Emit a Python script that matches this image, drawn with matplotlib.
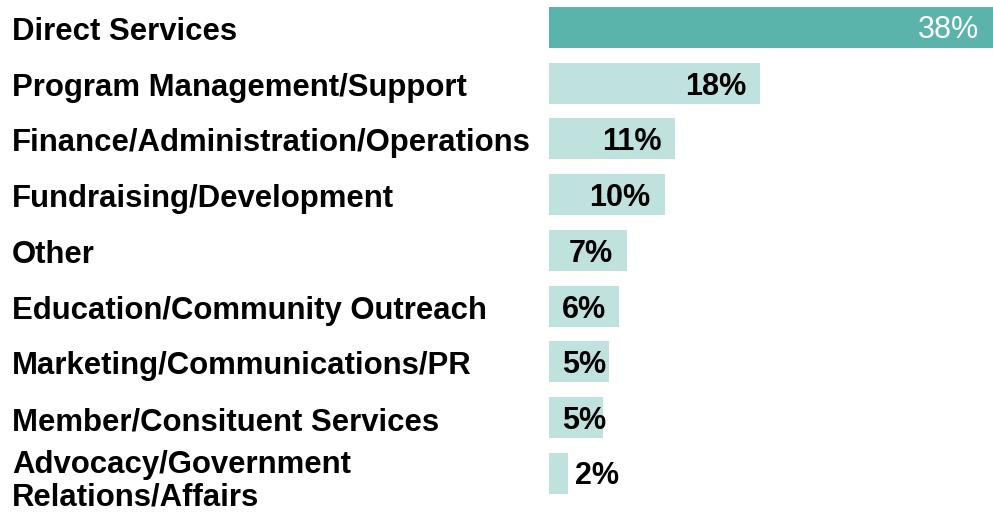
import matplotlib
matplotlib.use("Agg")
import matplotlib.pyplot as plt
from matplotlib.transforms import blended_transform_factory

# Share of staff time by function (percent)
categories = [
    "Direct Services",
    "Program Management/Support",
    "Finance/Administration/Operations",
    "Fundraising/Development",
    "Other",
    "Education/Community Outreach",
    "Marketing/Communications/PR",
    "Member/Consituent Services",
    "Advocacy/Government\nRelations/Affairs",
]
values = [38.0, 18.1, 10.8, 9.9, 6.7, 6.0, 5.1, 4.6, 1.6]

dark = "#5BB4AC"
light = "#C0E2DF"

plt.rcParams["font.family"] = ["Liberation Sans", "DejaVu Sans"]

W, H = 993, 513
fig = plt.figure(figsize=(W / 100, H / 100), dpi=100)
ax = fig.add_axes([549 / W, 0, 444 / W, 1])

pos = list(range(len(categories)))
colors = [dark] + [light] * (len(values) - 1)
ax.barh(pos, values, height=0.735, color=colors, edgecolor="none")

ax.set_xlim(0, max(values))
ax.set_ylim(8.709, -0.493)
ax.axis("off")

# category names sit at the left edge of the figure
tr = blended_transform_factory(fig.transFigure, ax.transData)
for i, name in enumerate(categories):
    dy = 0.14 if "\n" in name else 0.08
    ax.text(12 / W, i + dy, name, transform=tr, ha="left", va="center",
            fontsize=22.4, fontweight="bold", color="black", linespacing=1.1)

# percentage labels near the end of each bar
for i, v in enumerate(values):
    label = f"{v:.0f}%"
    if i == 0:
        ax.text(v - 1.15, i + 0.05, label, ha="right", va="center",
                fontsize=22, color="white")
    elif v < 3:
        ax.text(v + 0.6, i + 0.05, label, ha="left", va="center",
                fontsize=22, fontweight="bold", color="black")
    else:
        ax.text(max(v - 1.2, 4.9), i + 0.06, label, ha="right", va="center",
                fontsize=22, fontweight="bold", color="black")

fig.savefig("out.png", dpi=100)
